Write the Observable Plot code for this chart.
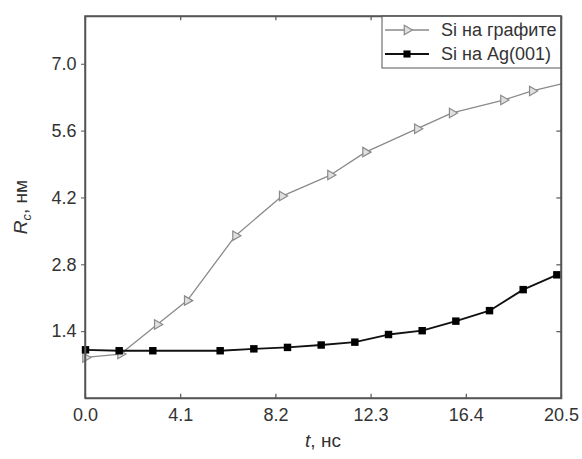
<!DOCTYPE html>
<html>
<head>
<meta charset="utf-8">
<script src="https://cdn.jsdelivr.net/npm/d3@7"></script>
<script src="https://cdn.jsdelivr.net/npm/@observablehq/plot@0.6"></script>
<style>
  html, body { margin: 0; padding: 0; background: #fff; }
  #chart svg { display: block; }
</style>
</head>
<body>
<div id="chart"></div>
<script>
// Data
const seriesNames = ["Si на графите", "Si на Ag(001)"];
const graphiteT = [0, 1.51, 3.09, 4.38, 6.46, 8.47, 10.55, 12.06, 14.29, 15.79, 18.0, 19.24, 20.5];
const graphiteR = [0.86, 0.93, 1.55, 2.05, 3.41, 4.24, 4.68, 5.16, 5.65, 5.98, 6.25, 6.44, 6.59];
const agT = [0, 1.45, 2.9, 5.8, 7.25, 8.7, 10.15, 11.6, 13.05, 14.5, 15.95, 17.4, 18.85, 20.3];
const agR = [1.02, 1.0, 1.0, 1.0, 1.04, 1.07, 1.12, 1.18, 1.34, 1.42, 1.62, 1.84, 2.28, 2.59];
const xTicks = [0.0, 4.1, 8.2, 12.3, 16.4, 20.5];
const yTicks = [1.4, 2.8, 4.2, 5.6, 7.0];
const xDomain = [0, 20.5];
const yDomain = [0, 8];

const graphite = graphiteT.map((t, i) => ({t, r: graphiteR[i]}));
const ag = agT.map((t, i) => ({t, r: agR[i]}));

const gray = "#8a8a8a";
const axisColor = "#555";
const fontFamily = "Liberation Sans, Arial, sans-serif";

const W = 582, H = 459;
const mL = 85, mR = 21, mT = 16, mB = 61;

const plot = Plot.plot({
  width: W,
  height: H,
  marginLeft: mL,
  marginRight: mR,
  marginTop: mT,
  marginBottom: mB,
  style: {fontFamily, fontSize: "18px", color: "#333", background: "#fff"},
  x: {domain: xDomain},
  y: {domain: yDomain},
  marks: [
    // inward ticks on bottom / top / right
    Plot.ruleX(xTicks, {x: d => d, y1: 0, y2: 0.09, stroke: axisColor, strokeWidth: 1.2}),
    Plot.ruleX(xTicks, {x: d => d, y1: 8, y2: 7.91, stroke: axisColor, strokeWidth: 1.2}),
    Plot.ruleY(yTicks, {y: d => d, x1: 20.5, x2: 20.3, stroke: axisColor, strokeWidth: 1.2}),
    Plot.axisX({ticks: xTicks, tickFormat: d3.format(".1f"), tickSize: 0, tickPadding: 10, label: null, fontSize: 18, fill: "#333"}),
    Plot.axisY({ticks: yTicks, tickFormat: d3.format(".1f"), tickSize: 4, tickPadding: 5, label: null, fontSize: 18, fill: "#333", stroke: axisColor}),
    Plot.line(graphite, {x: "t", y: "r", stroke: gray, strokeWidth: 1.3}),
    Plot.dot(graphite.slice(0, -1), {x: "t", y: "r", symbol: "triangle", rotate: 90, r: 3.5, fill: "#e0e0e0", stroke: gray, strokeWidth: 1.2}),
    Plot.line(ag, {x: "t", y: "r", stroke: "#111", strokeWidth: 1.8}),
    Plot.dot(ag, {x: "t", y: "r", symbol: "square", r: 4.2, fill: "#000", stroke: "none"}),
    Plot.frame({stroke: axisColor, strokeWidth: 1.5})
  ]
});

document.getElementById("chart").appendChild(plot);

// Axis titles and legend
const svg = d3.select(plot);
const xt = svg.append("text")
  .attr("x", (mL + W - mR) / 2).attr("y", 447)
  .attr("text-anchor", "middle")
  .attr("font-family", fontFamily).attr("font-size", 19).attr("fill", "#333");
xt.append("tspan").attr("font-style", "italic").text("t");
xt.append("tspan").text(", нс");

const yt = svg.append("text")
  .attr("transform", `translate(27, ${(mT + H - mB) / 2}) rotate(-90)`)
  .attr("text-anchor", "middle")
  .attr("font-family", fontFamily).attr("font-size", 19).attr("fill", "#333");
yt.append("tspan").attr("font-style", "italic").text("R");
yt.append("tspan").attr("font-style", "italic").attr("font-size", 13).attr("dy", 4).text("c");
yt.append("tspan").attr("dy", -4).text(", нм");

// legend box
const lg = svg.append("g").attr("font-family", fontFamily).attr("font-size", 18).attr("fill", "#333")
  .attr("text-anchor", "start");
lg.append("rect").attr("x", 382).attr("y", mT).attr("width", W - mR - 382).attr("height", 52)
  .attr("fill", "#fff").attr("stroke", axisColor).attr("stroke-width", 1);
const rows = [
  {y: 30, stroke: gray, sw: 1.3, sym: d3.symbolTriangle, size: Math.PI * 3.5 * 3.5, fill: "#e0e0e0", rot: 90, name: seriesNames[0]},
  {y: 54, stroke: "#111", sw: 1.8, sym: d3.symbolSquare, size: Math.PI * 4 * 4, fill: "#000", rot: 0, name: seriesNames[1]}
];
rows.forEach(r => {
  lg.append("line").attr("x1", 385).attr("x2", 429).attr("y1", r.y).attr("y2", r.y)
    .attr("stroke", r.stroke).attr("stroke-width", r.sw);
  lg.append("path").attr("d", d3.symbol(r.sym, r.size)())
    .attr("transform", `translate(407, ${r.y}) rotate(${r.rot})`)
    .attr("fill", r.fill).attr("stroke", r.rot ? r.stroke : "none").attr("stroke-width", 1.2);
  lg.append("text").attr("x", 441).attr("y", r.y).attr("dy", "0.35em").attr("text-anchor", "start").text(r.name);
});
// redraw frame edge over legend
svg.append("rect").attr("x", mL).attr("y", mT).attr("width", W - mL - mR).attr("height", H - mT - mB)
  .attr("fill", "none").attr("stroke", axisColor).attr("stroke-width", 1.5);
</script>
</body>
</html>
